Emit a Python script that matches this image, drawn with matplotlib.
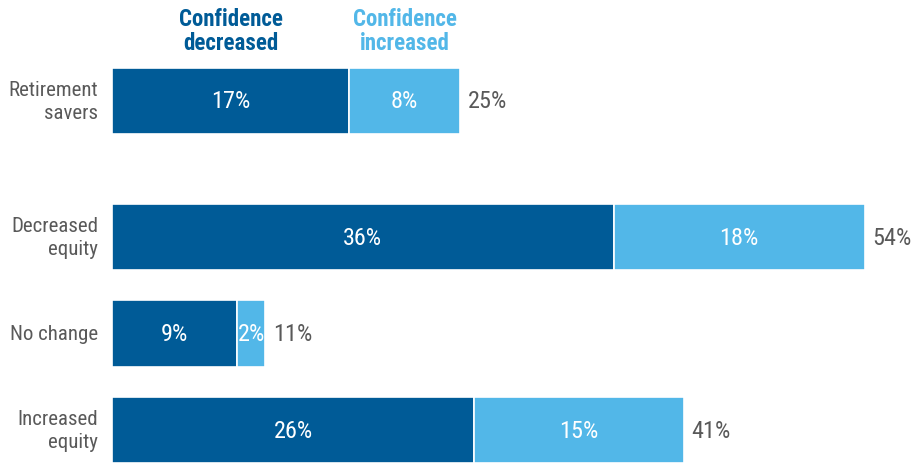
import matplotlib.pyplot as plt

categories = ["Retirement\nsavers", "Decreased\nequity", "No change", "Increased\nequity"]
decreased = [17, 36, 9, 26]
increased = [8, 18, 2, 15]
series_names = ["Confidence\ndecreased", "Confidence\nincreased"]

plt.rcParams["font.family"] = ["Roboto Condensed", "Archivo Narrow", "Barlow Semi Condensed", "DejaVu Sans"]

dark = "#005B97"
light = "#52B7E8"
grey = "#595959"

ypos = [0, 1.41, 2.41, 3.41]
h = 0.69

fig = plt.figure(figsize=(9.23, 4.64), dpi=100)
ax = fig.add_axes([0, 0, 1, 1])
ppx = 13.94  # pixels per percent
ax.set_xlim(-112 / ppx, (923 - 112) / ppx)
ax.set_ylim((464 - 102) / 96.5, -102 / 96.5)
ax.axis("off")

ax.barh(ypos, decreased, height=h, color=dark, edgecolor="white", linewidth=1.2)
ax.barh(ypos, increased, left=decreased, height=h, color=light, edgecolor="white", linewidth=1.2)

for y, d, i, c in zip(ypos, decreased, increased, categories):
    ax.text(d / 2, y, f"{d}%", ha="center", va="center", color="white", fontsize=17.5)
    ax.text(d + i / 2, y, f"{i}%", ha="center", va="center", color="white", fontsize=17.5)
    ax.text(d + i + 0.55, y, f"{d + i}%", ha="left", va="center", color=grey, fontsize=17.5)
    ax.text(-1.0, y, c, ha="right", va="center", color=grey, fontsize=15, linespacing=1.25)

ax.text(8.5, -0.73, series_names[0], ha="center", va="center", color=dark,
        fontsize=16.5, fontweight="bold", linespacing=1.1)
ax.text(21.0, -0.73, series_names[1], ha="center", va="center", color=light,
        fontsize=16.5, fontweight="bold", linespacing=1.1)

fig.savefig("out.png", dpi=100)
